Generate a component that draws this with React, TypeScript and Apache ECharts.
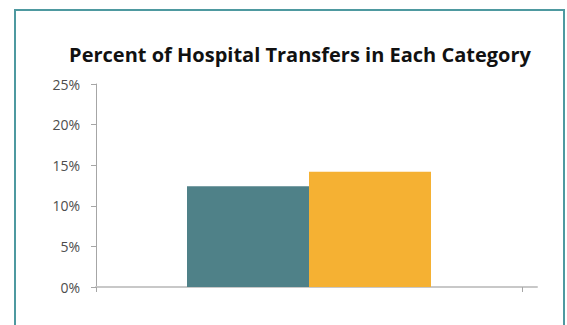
import React, { useEffect, useRef } from "react";
import * as echarts from "echarts";

const categories = ["Hospital Transfers"];
const seriesNames = ["Category A", "Category B"];
const seriesValues = [[12.4], [14.2]];
const seriesColors = ["#4f8188", "#f5b133"];
const yTicks = [0, 5, 10, 15, 20, 25];
const titleText = "Percent of Hospital Transfers in Each Category";

export default function App() {
  const ref = useRef<HTMLDivElement>(null);
  useEffect(() => {
    if (!ref.current) return;
    const chart = echarts.init(ref.current, null, { renderer: "svg" });
    chart.setOption({
      animation: false,
      backgroundColor: "#ffffff",
      title: {
        text: titleText,
        left: 295,
        top: 39,
        textAlign: "center",
        textStyle: {
          fontFamily: "Open Sans",
          fontWeight: "bold",
          fontSize: 20,
          color: "#111111",
        },
      },
      graphic: [
        {
          type: "rect",
          shape: { x: 15, y: 10, width: 549, height: 330 },
          style: { fill: "none", stroke: "#4e99a0", lineWidth: 2 },
          silent: true,
        },
      ],
      grid: [
        { left: 96, right: 45, top: 84, bottom: 38 },
        { left: 96, right: 30, top: 84, bottom: 38 },
      ],
      xAxis: [
        {
          type: "category",
          gridIndex: 0,
          data: categories,
          axisLine: { show: false },
          axisTick: {
            show: true,
            alignWithLabel: false,
            length: 5,
            lineStyle: { color: "#a6a6a6", width: 1 },
          },
          axisLabel: { show: false },
        },
        {
          type: "category",
          gridIndex: 1,
          data: categories,
          axisLine: { show: true, lineStyle: { color: "#c8c8c8", width: 2 } },
          axisTick: { show: false },
          axisLabel: { show: false },
        },
      ],
      yAxis: [
        {
          type: "value",
          gridIndex: 0,
          min: yTicks[0],
          max: yTicks[yTicks.length - 1],
          interval: 5,
          axisLine: { show: true, lineStyle: { color: "#a6a6a6", width: 1 } },
          axisTick: { show: true, length: 5, lineStyle: { color: "#a6a6a6" } },
          splitLine: { show: false },
          axisLabel: {
            formatter: (v: number) => `${v}%`,
            color: "#4d4d4d",
            fontFamily: "Open Sans",
            fontSize: 14,
            margin: 16,
          },
        },
        {
          type: "value",
          gridIndex: 1,
          show: false,
          min: 0,
          max: 25,
        },
      ],
      series: seriesNames.map((name, i) => ({
        name,
        type: "bar",
        xAxisIndex: 0,
        yAxisIndex: 0,
        data: seriesValues[i],
        barWidth: 122,
        barGap: "0%",
        itemStyle: { color: seriesColors[i] },
      })),
    });
    return () => chart.dispose();
  }, []);
  return (
    <div
      ref={ref}
      style={{ position: "fixed", left: 0, top: 0, width: 567, height: 325 }}
    />
  );
}
